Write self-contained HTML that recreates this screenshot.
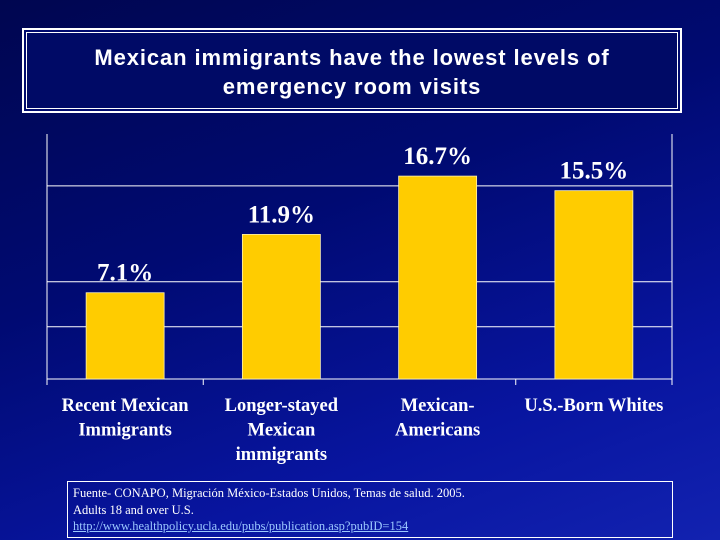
<!DOCTYPE html>
<html><head><meta charset="utf-8"><style>
body{margin:0;width:720px;height:540px;overflow:hidden;font-family:"Liberation Sans",sans-serif}
#bg{position:absolute;left:0;top:0;width:720px;height:540px;background:linear-gradient(160deg,#000650 0%,#000a72 40%,#0815a0 75%,#1222b0 100%)}
#title{position:absolute;left:22px;top:28px;width:660px;height:85px;border:2px solid #fff;box-shadow:inset 0 0 0 2px #000a6e,inset 0 0 0 3px #fff;background:#000a66;color:#fff;font-size:22px;font-weight:bold;text-align:center;line-height:29px;box-sizing:border-box;padding-top:13px;letter-spacing:0.9px}
#src{position:absolute;left:67px;top:481px;width:606px;height:57px;border:1px solid #fff;box-sizing:border-box;color:#fff;font-family:"Liberation Serif",serif;font-size:12.5px;line-height:16.5px;padding:3px 0 0 5px}
#src a{color:#9cc8ff;text-decoration:underline}
</style></head><body>
<div id="bg"></div>
<div id="title">Mexican immigrants have the lowest levels of<br>emergency room visits</div>
<svg id="chart" width="720" height="540" style="position:absolute;left:0;top:0"></svg>
<div id="src">Fuente- CONAPO, Migración México-Estados Unidos, Temas de salud. 2005.<br>Adults 18 and over U.S.<br><a>http://www.healthpolicy.ucla.edu/pubs/publication.asp?pubID=154</a></div>
<script>
const categories=[["Recent Mexican","Immigrants"],["Longer-stayed","Mexican","immigrants"],["Mexican-","Americans"],["U.S.-Born Whites"]];
const values=[7.1,11.9,16.7,15.5];
const valueLabels=["7.1%","11.9%","16.7%","15.5%"];
const gridValues=[4.3,8.0,15.9];
const NS="http://www.w3.org/2000/svg";
const svg=document.getElementById('chart');
const L=47,R=672,B=379,T=134,PX=12.15;
const n=values.length,cw=(R-L)/n,bw=78;
const y=v=>B-v*PX;
const xc=i=>L+cw*(i+0.5);
function mk(t,a){const e=document.createElementNS(NS,t);for(const k in a)e.setAttribute(k,a[k]);svg.appendChild(e);return e;}
gridValues.forEach((g,i)=>{const e=mk('line',{x1:L,x2:R,y1:y(g),y2:y(g),stroke:'#fff','stroke-width':1});

});
let a=mk('line',{x1:L,x2:L,y1:T,y2:B,stroke:'#fff'});


a=mk('line',{x1:R,x2:R,y1:T,y2:B,stroke:'#fff'});


a=mk('line',{x1:L,x2:R,y1:B,y2:B,stroke:'#fff'});


for(let i=0;i<=n;i++){if(i==2)continue;const t=mk('line',{x1:L+cw*i,x2:L+cw*i,y1:B,y2:B+6,stroke:'#fff'});

}
values.forEach((v,i)=>{
const r=mk('rect',{x:xc(i)-bw/2,y:y(v),width:bw,height:B-y(v),fill:'#ffcc00',stroke:'#fff3b0','stroke-width':0.8});


const t=mk('text',{x:xc(i),y:y(v)-12,'text-anchor':'middle',fill:'#fff','font-family':'Liberation Serif,serif','font-weight':'bold','font-size':25});
t.textContent=valueLabels[i];


categories[i].forEach((ln,j)=>{const c=mk('text',{x:xc(i),y:411+j*24.5,'text-anchor':'middle',fill:'#fff','font-family':'Liberation Serif,serif','font-weight':'bold','font-size':18.5});
c.textContent=ln;

});
});
</script>
</body></html>
